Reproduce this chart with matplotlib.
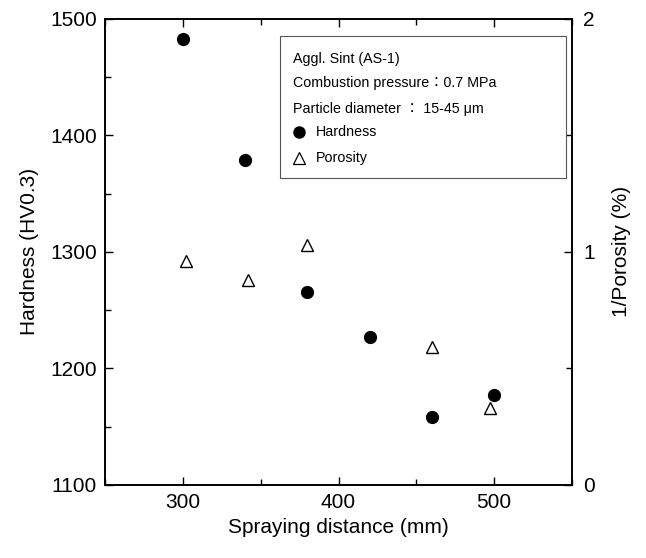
import matplotlib
matplotlib.use("Agg")
import matplotlib.pyplot as plt
from matplotlib.patches import Rectangle
from matplotlib.ticker import MultipleLocator

plt.rcParams['font.family'] = ['Liberation Sans', 'Noto Sans CJK JP', 'DejaVu Sans']

# hardness (left axis)
dist_h = [300, 340, 380, 420, 460, 500]
hardness = [1483, 1379, 1266, 1227, 1158, 1177]

# 1/porosity (right axis)
dist_p = [302, 342, 380, 460, 497]
inv_por = [0.96, 0.88, 1.03, 0.59, 0.33]

info_lines = ['Aggl. Sint (AS-1)',
              'Combustion pressure\uff1a0.7 MPa',
              'Particle diameter \uff1a 15-45 \u03bcm']

fig = plt.figure(figsize=(6.46, 5.58), dpi=100)
ax = fig.add_axes([0.1625, 0.131, 0.723, 0.835])
ax2 = ax.twinx()

ax.plot(dist_h, hardness, 'o', color='black', markersize=8.5, zorder=5)
ax2.plot(dist_p, inv_por, '^', markerfacecolor='white', markeredgecolor='black',
         markersize=9, markeredgewidth=1.0, zorder=5)

ax.set_xlim(250, 550)
ax.set_ylim(1100, 1500)
ax2.set_ylim(0, 2)

ax.xaxis.set_major_locator(MultipleLocator(100))
ax.xaxis.set_minor_locator(MultipleLocator(50))
ax.yaxis.set_major_locator(MultipleLocator(100))
ax.yaxis.set_minor_locator(MultipleLocator(50))
ax2.yaxis.set_major_locator(MultipleLocator(1))
ax2.yaxis.set_minor_locator(MultipleLocator(0.5))

ax.tick_params(which='both', direction='in', top=True, labelsize=15, width=1.0)
ax.tick_params(which='major', length=6, pad=6)
ax.tick_params(which='minor', length=4)
ax2.tick_params(which='both', direction='in', labelsize=15, width=1.0)
ax2.tick_params(which='major', length=6, pad=8)
ax2.tick_params(which='minor', length=4)

for a in (ax, ax2):
    for s in a.spines.values():
        s.set_linewidth(1.2)

ax.set_xlabel('Spraying distance (mm)', fontsize=15, labelpad=4)
ax.set_ylabel('Hardness (HV0.3)', fontsize=15, labelpad=8)
ax2.set_ylabel('1/Porosity (%)', fontsize=15, labelpad=12)

# info box
ax2.add_patch(Rectangle((0.375, 0.659), 0.612, 0.304, transform=ax2.transAxes,
                        facecolor='white', edgecolor='#555555', linewidth=0.8, zorder=6))
ys = [0.914, 0.862, 0.807, 0.757, 0.702]
for txt, y in zip(info_lines, ys[:3]):
    ax2.text(0.402, y, txt, transform=ax2.transAxes, fontsize=10.3, va='center', zorder=7)
ax2.plot([0.416], [ys[3]], 'o', color='black', markersize=8, transform=ax2.transAxes, zorder=7)
ax2.text(0.452, ys[3], 'Hardness', transform=ax2.transAxes, fontsize=10.3, va='center', zorder=7)
ax2.plot([0.416], [ys[4]], '^', markerfacecolor='white', markeredgecolor='black',
         markersize=8.5, markeredgewidth=0.9, transform=ax2.transAxes, zorder=7)
ax2.text(0.452, ys[4], 'Porosity', transform=ax2.transAxes, fontsize=10.3, va='center', zorder=7)

fig.savefig('out.png', dpi=100)
